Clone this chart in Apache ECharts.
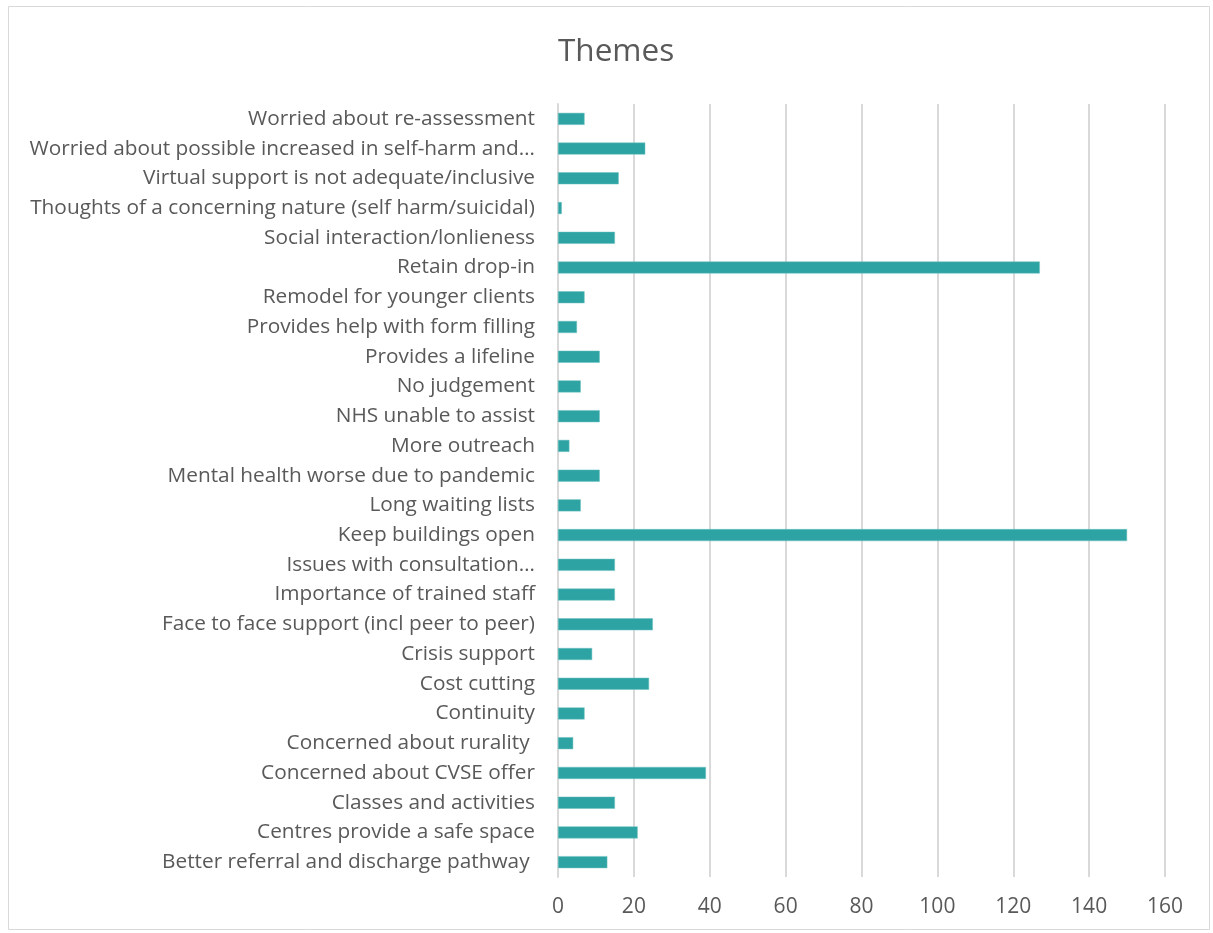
<!DOCTYPE html>
<html><head><meta charset="utf-8">
<script src="https://cdn.jsdelivr.net/npm/echarts@6/dist/echarts.min.js"></script>
<style>html,body{margin:0;padding:0;background:#fff}#c{width:1213px;height:933px}</style>
</head><body><div id="c"></div>
<script>
var categories = [
  "Worried about re-assessment",
  "Worried about possible increased in self-harm and…",
  "Virtual support is not adequate/inclusive",
  "Thoughts of a concerning nature (self harm/suicidal)",
  "Social interaction/lonlieness",
  "Retain drop-in",
  "Remodel for younger clients",
  "Provides help with form filling",
  "Provides a lifeline",
  "No judgement",
  "NHS unable to assist",
  "More outreach",
  "Mental health worse due to pandemic",
  "Long waiting lists",
  "Keep buildings open",
  "Issues with consultation…",
  "Importance of trained staff",
  "Face to face support (incl peer to peer)",
  "Crisis support",
  "Cost cutting",
  "Continuity",
  "Concerned about rurality ",
  "Concerned about CVSE offer",
  "Classes and activities",
  "Centres provide a safe space",
  "Better referral and discharge pathway "
];
var values = [7, 23, 16, 1, 15, 127, 7, 5, 11, 6, 11, 3, 11, 6, 150, 15, 15, 25, 9, 24, 7, 4, 39, 15, 21, 13];
var xTicks = [0, 20, 40, 60, 80, 100, 120, 140, 160];

var chart = echarts.init(document.getElementById('c'));
var font = '"Open Sans", "Liberation Sans", sans-serif';
chart.setOption({
  backgroundColor: '#fff',
  animation: false,
  title: {
    text: 'Themes', left: 553, top: 31,
    textStyle: {fontFamily: font, fontSize: 31.5, fontWeight: 'normal', color: '#595959'}
  },
  graphic: [{
    type: 'rect', shape: {x: 8.5, y: 6.5, width: 1201, height: 923},
    style: {fill: 'none', stroke: '#d9d9d9', lineWidth: 1}, silent: true, z: -1
  }],
  grid: {left: 558, right: 48, top: 104, bottom: 56, containLabel: false},
  xAxis: {
    type: 'value', min: xTicks[0], max: xTicks[xTicks.length - 1], interval: 20,
    axisLine: {show: false}, axisTick: {show: false},
    axisLabel: {fontFamily: font, fontSize: 21, color: '#595959', margin: 20},
    splitLine: {show: true, lineStyle: {color: '#d9d9d9', width: 2}}
  },
  yAxis: {
    type: 'category', data: categories, inverse: true,
    axisLine: {show: true, lineStyle: {color: '#d9d9d9', width: 2}},
    axisTick: {show: false},
    axisLabel: {fontFamily: font, fontSize: 20.8, color: '#595959', margin: 23, interval: 0}
  },
  series: [{
    type: 'bar', data: values, barWidth: 12,
    itemStyle: {color: '#2ea3a3', borderColor: '#6cc0c0', borderWidth: 0.5}
  }]
});
</script></body></html>
